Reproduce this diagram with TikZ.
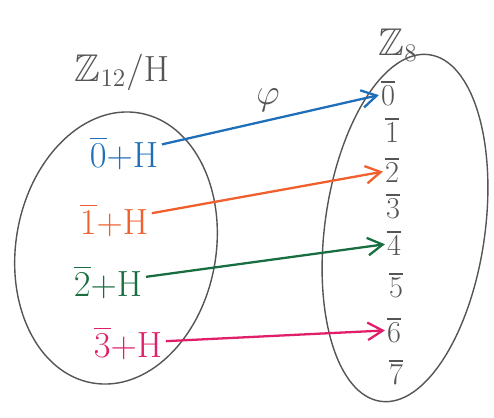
\documentclass[tikz,border=0pt]{standalone}
\usepackage{amsmath,amssymb}
\usepackage{tikz}
\usetikzlibrary{arrows.meta,shapes.geometric}

\definecolor{penblue}{RGB}{30,110,185}
\definecolor{penorange}{RGB}{240,95,45}
\definecolor{pengreen}{RGB}{25,110,65}
\definecolor{penpink}{RGB}{225,30,105}
\definecolor{pencil}{RGB}{85,85,85}

\begin{document}
\begin{tikzpicture}[
  x=0.02cm, y=-0.02cm,
  font=\fontsize{18}{21}\selectfont,
  set/.style={draw=pencil, ellipse, line width=0.8pt, inner sep=0pt},
  coset/.style={inner sep=2pt, font=\fontsize{22}{24}\selectfont},
  elem/.style={text=pencil, inner sep=1pt},
  arrow/.style={-{Straight Barb[length=3mm, width=3.5mm]}, line width=1.3pt}
]
\useasboundingbox (0,0) rectangle (494,417);

% the two sets
\node[set, minimum width=200*0.02cm, minimum height=274*0.02cm, rotate=-10] (quot) at (116,248) {};
\node[set, minimum width=160*0.02cm, minimum height=350*0.02cm, rotate=-8] (zeight) at (405,228) {};

\node[text=pencil, font=\fontsize{22}{24}\selectfont] (qname) at (122,72) {$\mathbb{Z}_{12}/\mathrm{H}$};
\node[text=pencil, font=\fontsize{22}{24}\selectfont] (zname) at (398,45) {$\mathbb{Z}_8$};
\node[text=pencil, font=\fontsize{22}{24}\selectfont] (phi) at (268,100) {$\varphi$};

% cosets
\node[coset, text=penblue] (c0) at (124,153) {$\overline{0}{+}\mathrm{H}$};
\node[coset, text=penorange] (c1) at (114,220) {$\overline{1}{+}\mathrm{H}$};
\node[coset, text=pengreen] (c2) at (108,282) {$\overline{2}{+}\mathrm{H}$};
\node[coset, text=penpink] (c3) at (128,343) {$\overline{3}{+}\mathrm{H}$};

% elements of Z8
\node[elem] (e0) at (388,93) {$\overline{0}$};
\node[elem] (e1) at (392,130) {$\overline{1}$};
\node[elem] (e2) at (392,170) {$\overline{2}$};
\node[elem] (e3) at (393,206) {$\overline{3}$};
\node[elem] (e4) at (394,243) {$\overline{4}$};
\node[elem] (e5) at (396,285) {$\overline{5}$};
\node[elem] (e6) at (394,330) {$\overline{6}$};
\node[elem] (e7) at (396,372) {$\overline{7}$};

\draw[arrow, penblue] (c0) -- (e0);
\draw[arrow, penorange] (c1) -- (e2);
\draw[arrow, pengreen] (c2) -- (e4);
\draw[arrow, penpink] (c3) -- (e6);
\end{tikzpicture}
\end{document}
